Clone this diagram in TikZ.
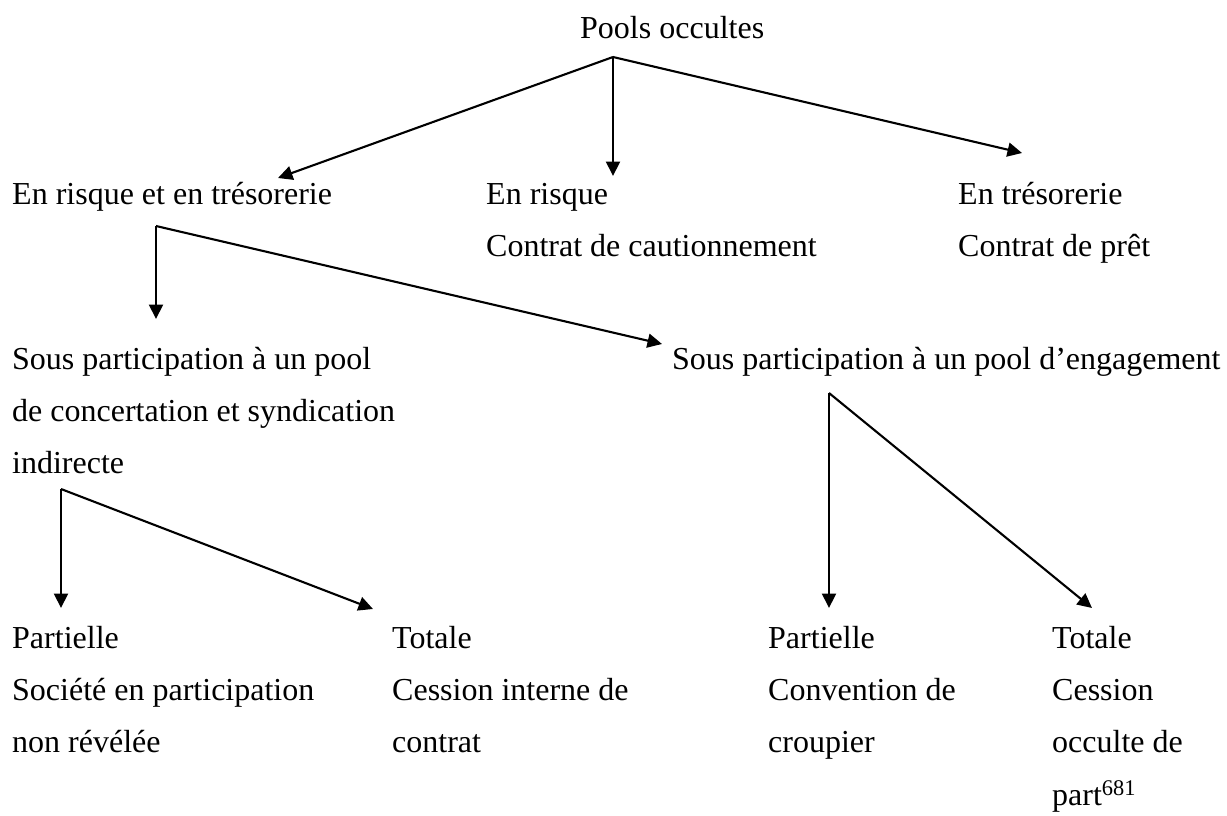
\documentclass[tikz,border=0pt]{standalone}
\usepackage{fontspec}
\setmainfont{Liberation Serif}
\usetikzlibrary{arrows.meta}
\tikzset{
  lbl/.style={anchor=base west, inner sep=0pt, font=\fontsize{32}{38}\selectfont},
  conn/.style={line width=2.1pt, -{Triangle[length=14.5pt,width=14pt]}}
}
\begin{document}
\begin{tikzpicture}[x=1pt,y=-1pt]
\useasboundingbox (0,0) rectangle (1227,816);
% texts
\node[lbl] (pools) at (580,39) {Pools occultes};
\node[lbl] (rt) at (12,204) {En risque et en trésorerie};
\node[lbl] (r1) at (486,204) {En risque};
\node[lbl] (r2) at (486,256) {Contrat de cautionnement};
\node[lbl] (t1) at (958,204) {En trésorerie};
\node[lbl] (t2) at (958,256) {Contrat de prêt};
\node[lbl] (sc1) at (12,369) {Sous participation à un pool};
\node[lbl] (sc2) at (12,421) {de concertation et syndication};
\node[lbl] (sc3) at (12,473) {indirecte};
\node[lbl] (se1) at (672,369) {Sous participation à un pool d’engagement};
\node[lbl] (p1) at (12,648) {Partielle};
\node[lbl] (p2) at (12,700) {Société en participation};
\node[lbl] (p3) at (12,752) {non révélée};
\node[lbl] (q1) at (392,648) {Totale};
\node[lbl] (q2) at (392,700) {Cession interne de};
\node[lbl] (q3) at (392,752) {contrat};
\node[lbl] (u1) at (768,648) {Partielle};
\node[lbl] (u2) at (768,700) {Convention de};
\node[lbl] (u3) at (768,752) {croupier};
\node[lbl] (v1) at (1052,648) {Totale};
\node[lbl] (v2) at (1052,700) {Cession};
\node[lbl] (v3) at (1052,752) {occulte de};
\node[lbl] (v4) at (1052,805) {part\textsuperscript{681}};
% connector points
\coordinate (a0) at (613,57);
\coordinate (a0l) at (278,178);
\coordinate (a0m) at (613,176);
\coordinate (a0r) at (1022,153);
\coordinate (a1) at (156,226);
\coordinate (a1d) at (156,319);
\coordinate (a1r) at (662,344);
\coordinate (a2) at (61,489);
\coordinate (a2d) at (61,608);
\coordinate (a2r) at (373,609);
\coordinate (a3) at (829,393);
\coordinate (a3d) at (829,608);
\coordinate (a3r) at (1092,608);
% connectors
\draw[conn] (a0) -- (a0l);
\draw[conn] (a0) -- (a0m);
\draw[conn] (a0) -- (a0r);
\draw[conn] (a1) -- (a1d);
\draw[conn] (a1) -- (a1r);
\draw[conn] (a2) -- (a2d);
\draw[conn] (a2) -- (a2r);
\draw[conn] (a3) -- (a3d);
\draw[conn] (a3) -- (a3r);
\end{tikzpicture}
\end{document}
